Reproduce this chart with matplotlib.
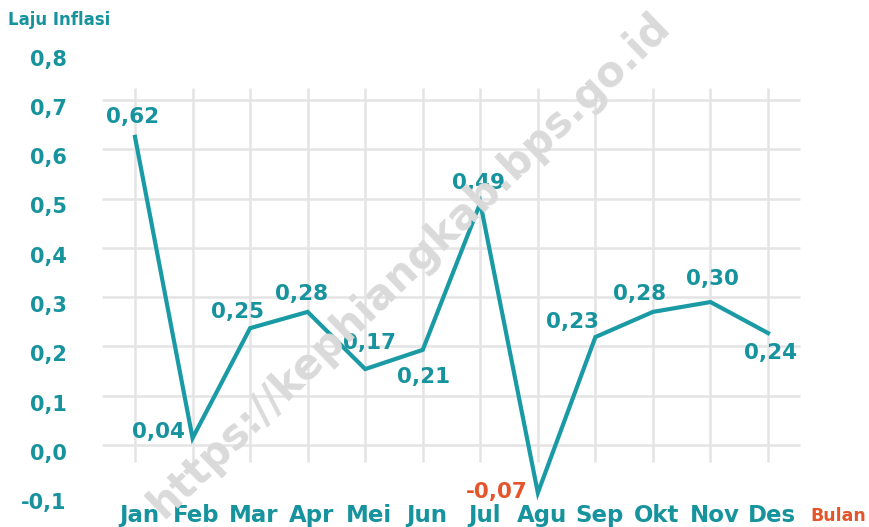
#!/usr/bin/env python3

# Monthly inflation line chart (Laju Inflasi) with value labels

import matplotlib
matplotlib.use("Agg")
import matplotlib.pyplot as plt
import matplotlib.transforms as mtransforms

months = ["Jan", "Feb", "Mar", "Apr", "Mei", "Jun", "Jul", "Agu", "Sep", "Okt", "Nov", "Des"]
# values as drawn on the line
line_values = [0.625, 0.014, 0.237, 0.270, 0.154, 0.193, 0.491, -0.097, 0.219, 0.270, 0.290, 0.227]
# values as written in the labels
label_texts = ["0,62", "0,04", "0,25", "0,28", "0,17", "0,21", "0,49", "-0,07", "0,23", "0,28", "0,30", "0,24"]
y_ticks = [-0.1, 0.0, 0.1, 0.2, 0.3, 0.4, 0.5, 0.6, 0.7, 0.8]
y_tick_labels = ["-0,1", "0,0", "0,1", "0,2", "0,3", "0,4", "0,5", "0,6", "0,7", "0,8"]

TEAL = "#1a9aa5"
TEXT_TEAL = "#17939e"
ORANGE = "#e4552c"
GRID = "#e4e4e4"

# label offsets in pixels (dx, dy), dy positive = up
label_offsets = [(-2, 20), (-34, 6), (-13, 16), (-6, 18), (4, 26), (1, -27),
                 (-2, 20), (-41, 1), (-23, 15), (-13, 18), (2, 23), (2, -20)]

W, H = 869, 527
fig = plt.figure(figsize=(W / 100, H / 100), dpi=100)

# axes placed so that Jan->135px, Des->768px, 0.0->445px, 0.1 step = 49.3px
ax = fig.add_axes([100 / W, (H - 500) / H, 705 / W, 455 / H])
ax.set_xlim((100 - 135) / 57.55, (805 - 135) / 57.55)
ax.set_ylim((445 - 500) / 493, (445 - 45) / 493)
for s in ax.spines.values():
    s.set_visible(False)

# grid
x = list(range(len(months)))
ax.hlines(y_ticks[1:-1], -0.573, 11.555, color=GRID, lw=1.8, zorder=1)
ax.vlines(x, -0.034, 0.724, color=GRID, lw=1.8, zorder=1)

ax.plot(x, line_values, color=TEAL, lw=3, solid_joinstyle="miter", zorder=3)

for i, (v, t) in enumerate(zip(line_values, label_texts)):
    dx, dy = label_offsets[i]
    col = ORANGE if t.startswith("-") else TEXT_TEAL
    ax.annotate(t, (i, v), xytext=(dx * 0.72, dy * 0.72), textcoords="offset points",
                ha="center", va="center", fontsize=15.5, fontweight="bold", color=col, zorder=4)

# ticks
ax.set_yticks(y_ticks)
ax.set_yticklabels(y_tick_labels)
ax.set_xticks(x)
ax.set_xticklabels(months)
ax.tick_params(axis="both", length=0)
ax.tick_params(axis="y", pad=24, labelsize=15, labelcolor=TEXT_TEAL)
ax.tick_params(axis="x", pad=3, labelsize=16.5, labelcolor=TEXT_TEAL)
for lab in ax.get_yticklabels():
    lab.set_fontweight("bold")
    lab.set_transform(lab.get_transform() + mtransforms.ScaledTranslation(0, -0.07, fig.dpi_scale_trans))
for lab in ax.get_xticklabels():
    lab.set_fontweight("bold")
    lab.set_transform(lab.get_transform() + mtransforms.ScaledTranslation(0.04, 0, fig.dpi_scale_trans))

fig.text(8 / W, 1 - 20 / H, "Laju Inflasi", fontsize=12, fontweight="bold", color=TEXT_TEAL,
         ha="left", va="center")
fig.text(838 / W, 1 - 516 / H, "Bulan", fontsize=12.5, fontweight="bold", color=ORANGE,
         ha="center", va="center")

# watermark
fig.text(409 / W, 1 - 265 / H, "https://kephiangkab.bps.go.id", fontsize=30, fontweight="bold",
         color="#dadada", rotation=44, ha="center", va="center", zorder=2)

fig.savefig("out.png", dpi=100)
